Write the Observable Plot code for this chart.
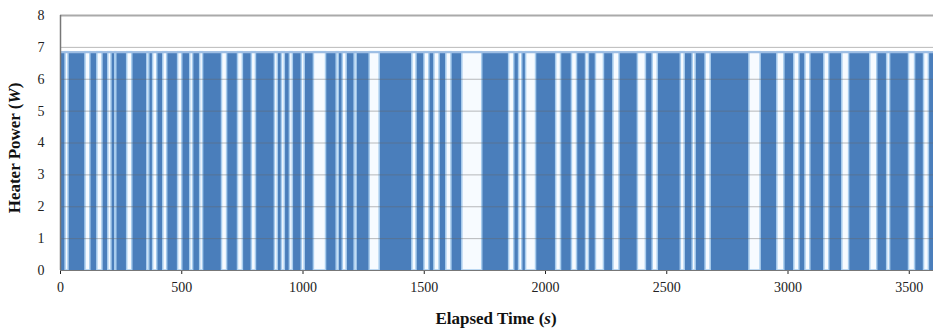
<!DOCTYPE html>
<html>
<head>
<meta charset="utf-8">
<script src="https://cdn.jsdelivr.net/npm/d3@7"></script>
<script src="https://cdn.jsdelivr.net/npm/@observablehq/plot@0.6"></script>
<style>
  html, body { margin: 0; padding: 0; background: #fff; }
  #chart { width: 934px; height: 333px; }
</style>
</head>
<body>
<div id="chart"></div>
<script>
// Heater off intervals (s); heater is on elsewhere
const gapStart = [21,103,152,197,226,275,358,382,424,485,535,576,666,732,789,884,913,946,995,1045,1139,1164,1213,1275,1451,1501,1542,1591,1657,1850,1891,1920,2044,2109,2167,2208,2280,2381,2442,2558,2607,2660,2841,2956,3026,3072,3150,3224,3339,3409,3499,3561];
const gapEnd   = [33,123,173,210,230,296,366,399,440,502,547,588,687,752,806,896,925,958,1007,1095,1147,1180,1221,1316,1468,1521,1563,1612,1739,1871,1904,1961,2064,2130,2179,2241,2305,2414,2463,2574,2619,2681,2887,2985,3047,3092,3170,3252,3368,3421,3524,3581];
const onPower = 6.85;          // W
const timeStart = 0, timeEnd = 3600;
const xTicks = [0,500,1000,1500,2000,2500,3000,3500];
const yTicks = [0,1,2,3,4,5,6,7,8];
const gridLevels = [1,2,3,4,5,6,7];

const gaps = gapStart.map((s,i) => ({start: s, end: gapEnd[i]}));
const onSegs = [];
let cur = timeStart;
gaps.forEach(g => { if (g.start > cur) onSegs.push({start: cur, end: g.start, power: onPower}); cur = g.end; });
if (cur < timeEnd) onSegs.push({start: cur, end: timeEnd, power: onPower});

const chart = Plot.plot({
  width: 934, height: 333,
  marginLeft: 60, marginRight: 1, marginTop: 15, marginBottom: 63,
  style: {fontFamily: "'Liberation Serif', 'Times New Roman', serif", fontSize: "14px", color: "#222", background: "#fff"},
  x: {domain: [timeStart, timeEnd], ticks: xTicks, tickFormat: d => String(d), tickSize: 4, tickPadding: 8, label: null},
  y: {domain: [0, 8], ticks: yTicks, tickFormat: d => String(d), tickSize: 0, tickPadding: 16, label: null},
  marks: [
    Plot.rect(onSegs, {x1: "start", x2: "end", y1: 0, y2: "power", fill: "#4a7ebb"}),
    Plot.rect(gaps, {x1: "start", x2: "end", y1: 0, y2: onPower, fill: "#f7fbff", stroke: "#a9cdee", strokeWidth: 1.5}),
    Plot.ruleY([onPower], {stroke: "#9dbde3", strokeWidth: 2}),
    Plot.ruleY(gridLevels, {stroke: "#666", strokeOpacity: 0.45}),
    Plot.ruleY([8], {stroke: "#aaa", strokeWidth: 2}),
    Plot.ruleY([0], {stroke: "#777"}),
    Plot.ruleX([0], {stroke: "#777", strokeWidth: 1.5})
  ]
});

const svg = d3.select(chart);
const yl = svg.append("text")
  .attr("transform", "translate(20,148) rotate(-90)")
  .attr("text-anchor", "middle")
  .attr("font-family", "'Liberation Serif', serif")
  .attr("font-size", 17).attr("font-weight", "bold").attr("fill", "#111");
yl.append("tspan").text("Heater Power (");
yl.append("tspan").attr("font-style", "italic").text("W");
yl.append("tspan").text(")");

const xl = svg.append("text")
  .attr("x", 496).attr("y", 324)
  .attr("text-anchor", "middle")
  .attr("font-family", "'Liberation Serif', serif")
  .attr("font-size", 17).attr("font-weight", "bold").attr("fill", "#111");
xl.append("tspan").text("Elapsed Time (");
xl.append("tspan").attr("font-style", "italic").text("s");
xl.append("tspan").text(")");

document.getElementById("chart").appendChild(chart);
</script>
</body>
</html>
